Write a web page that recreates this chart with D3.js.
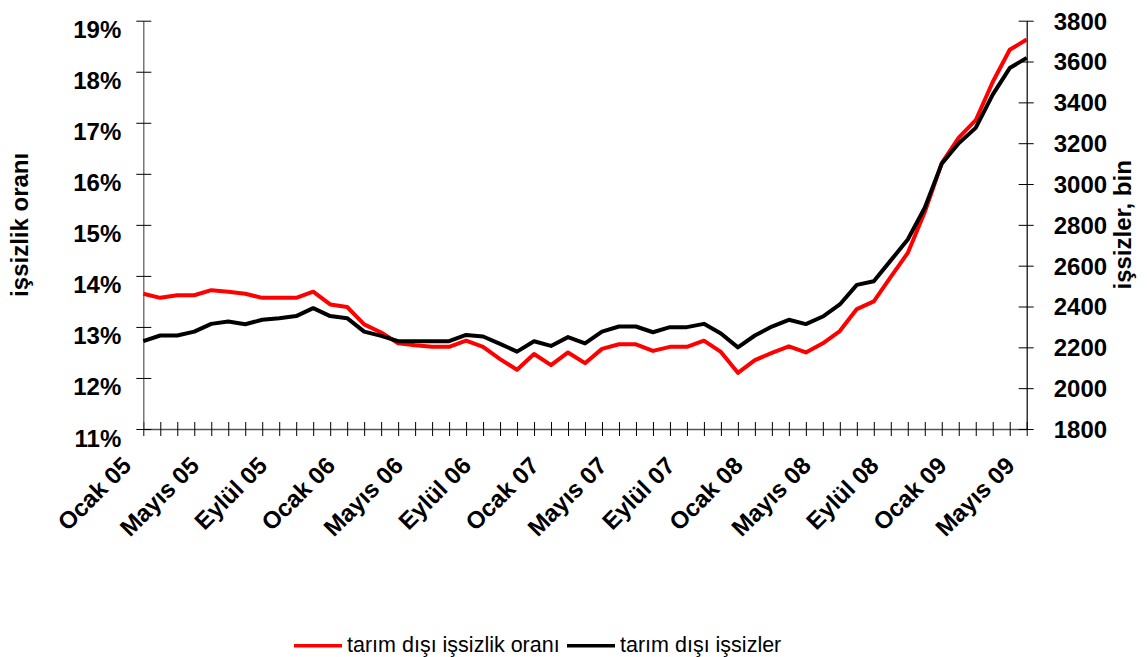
<!DOCTYPE html>
<html>
  <head>
    <meta charset="utf-8">
    <title>Tarım dışı işsizlik</title>
    <style>
      body {
        margin: 0px;
        overflow: hidden;
        background: #fff;
      }
      text { font-family: "Liberation Sans", Arial, sans-serif; }
    </style>
    <script src="https://d3js.org/d3.v7.min.js"></script>
  </head>
  <body>

    <svg width="1147" height="657"></svg>

    <script>
      // months, Ocak 05 .. Mayıs 09
      const months = [
        'Ocak 05', 'Şubat 05', 'Mart 05', 'Nisan 05', 'Mayıs 05', 'Haziran 05', 'Temmuz 05', 'Ağustos 05', 'Eylül 05', 'Ekim 05', 'Kasım 05', 'Aralık 05',
        'Ocak 06', 'Şubat 06', 'Mart 06', 'Nisan 06', 'Mayıs 06', 'Haziran 06', 'Temmuz 06', 'Ağustos 06', 'Eylül 06', 'Ekim 06', 'Kasım 06', 'Aralık 06',
        'Ocak 07', 'Şubat 07', 'Mart 07', 'Nisan 07', 'Mayıs 07', 'Haziran 07', 'Temmuz 07', 'Ağustos 07', 'Eylül 07', 'Ekim 07', 'Kasım 07', 'Aralık 07',
        'Ocak 08', 'Şubat 08', 'Mart 08', 'Nisan 08', 'Mayıs 08', 'Haziran 08', 'Temmuz 08', 'Ağustos 08', 'Eylül 08', 'Ekim 08', 'Kasım 08', 'Aralık 08',
        'Ocak 09', 'Şubat 09', 'Mart 09', 'Nisan 09', 'Mayıs 09'
      ];
      // labels shown on the x axis
      const shownLabels = ['Ocak 05', 'Mayıs 05', 'Eylül 05', 'Ocak 06', 'Mayıs 06', 'Eylül 06', 'Ocak 07',
        'Mayıs 07', 'Eylül 07', 'Ocak 08', 'Mayıs 08', 'Eylül 08', 'Ocak 09', 'Mayıs 09'];

      // tarım dışı işsizlik oranı (%), left axis
      const rate = [
        13.65, 13.57, 13.62, 13.62, 13.72, 13.69, 13.65, 13.57, 13.57, 13.57, 13.69, 13.44,
        13.39, 13.05, 12.89, 12.68, 12.64, 12.61, 12.61, 12.73, 12.61, 12.37, 12.16, 12.47,
        12.25, 12.50, 12.29, 12.57, 12.66, 12.66, 12.53, 12.61, 12.61, 12.73, 12.51, 12.10,
        12.35, 12.49, 12.62, 12.50, 12.68, 12.92, 13.35, 13.50, 13.98, 14.45, 15.25, 16.21,
        16.71, 17.05, 17.80, 18.43, 18.63
      ];
      // tarım dışı işsizler (bin), right axis
      const unemployed = [
        2230, 2258, 2258, 2277, 2315, 2327, 2313, 2335, 2343, 2353, 2392, 2353,
        2343, 2277, 2256, 2230, 2230, 2230, 2230, 2261, 2253, 2217, 2179, 2230,
        2207, 2250, 2219, 2277, 2302, 2302, 2274, 2299, 2299, 2315, 2268, 2200,
        2258, 2302, 2335, 2314, 2351, 2410, 2506, 2524, 2626, 2728, 2884, 3100,
        3200, 3275, 3438, 3568, 3618
      ];

      const leftTicks = [0.11, 0.12, 0.13, 0.14, 0.15, 0.16, 0.17, 0.18, 0.19];
      const rightTicks = [1800, 2000, 2200, 2400, 2600, 2800, 3000, 3200, 3400, 3600, 3800];

      const svg = d3.select('svg');
      const margin = { top: 20.7, right: 120.3, bottom: 228, left: 143.3 };
      const width = +svg.attr('width');
      const height = +svg.attr('height');
      const innerWidth = width - margin.left - margin.right;
      const innerHeight = height - margin.top - margin.bottom;

      const g = svg.append('g')
        .attr('transform', `translate(${margin.left},${margin.top})`);

      const xScale = d3.scalePoint()
        .domain(months)
        .range([0, innerWidth]);

      const yLeft = d3.scaleLinear()
        .domain([0.11, 0.19])
        .range([innerHeight, 0]);

      const yRight = d3.scaleLinear()
        .domain([1800, 3800])
        .range([innerHeight, 0]);

      // x axis: a tick for every month, a label every four months
      const xAxis = d3.axisBottom(xScale)
        .tickSizeOuter(0)
        .tickSizeInner(7)
        .tickFormat(d => shownLabels.includes(d) ? d : '');
      const xg = g.append('g')
        .attr('transform', `translate(0,${innerHeight})`)
        .call(xAxis);
      xg.select('.domain').attr('stroke', '#555').attr('stroke-width', 1.5);
      xg.selectAll('.tick line').attr('y1', -7).attr('y2', 7).attr('stroke', '#000');
      xg.selectAll('.tick text').filter(d => !shownLabels.includes(d)).remove();
      xg.selectAll('.tick text')
        .attr('font-size', 24)
        .attr('font-weight', 'bold')
        .attr('fill', '#000')
        .attr('text-anchor', 'end')
        .attr('y', 0)
        .attr('dy', 0)
        .attr('transform', 'translate(-11,38) rotate(-45)');

      // left axis
      const leftAxis = d3.axisLeft(yLeft)
        .tickValues(leftTicks)
        .tickSizeOuter(0)
        .tickSizeInner(7)
        .tickPadding(15)
        .tickFormat(d3.format('.0%'));
      const lg = g.append('g').call(leftAxis);
      lg.select('.domain').attr('stroke', '#555').attr('stroke-width', 1.2);
      lg.selectAll('.tick line').attr('x1', -7).attr('x2', 8).attr('stroke', '#000');
      lg.selectAll('.tick text')
        .attr('font-size', 24)
        .attr('font-weight', 'bold')
        .attr('fill', '#000')
        .attr('dy', 17);

      // right axis
      const rightAxis = d3.axisRight(yRight)
        .tickValues(rightTicks)
        .tickSizeOuter(0)
        .tickSizeInner(7)
        .tickPadding(20)
        .tickFormat(d3.format('d'));
      const rg = g.append('g')
        .attr('transform', `translate(${innerWidth},0)`)
        .call(rightAxis);
      rg.select('.domain').attr('stroke', '#000').attr('stroke-width', 1.2);
      rg.selectAll('.tick line').attr('x1', -8).attr('x2', 7).attr('stroke', '#000');
      rg.selectAll('.tick text')
        .attr('font-size', 24)
        .attr('font-weight', 'bold')
        .attr('fill', '#000')
        .attr('dy', '0.35em');

      // axis titles
      svg.append('text')
        .attr('transform', `translate(28,${margin.top + innerHeight / 2}) rotate(-90)`)
        .attr('text-anchor', 'middle')
        .attr('font-size', 24)
        .attr('font-weight', 'bold')
        .text('işsizlik oranı');

      svg.append('text')
        .attr('transform', `translate(1131,${margin.top + innerHeight / 2}) rotate(-90)`)
        .attr('text-anchor', 'middle')
        .attr('font-size', 24)
        .attr('font-weight', 'bold')
        .text('işsizler, bin');

      // lines
      const rateLine = d3.line()
        .x((d, i) => xScale(months[i]))
        .y(d => yLeft(d / 100));
      const countLine = d3.line()
        .x((d, i) => xScale(months[i]))
        .y(d => yRight(d));

      g.append('path')
        .datum(rate)
        .attr('fill', 'none')
        .attr('stroke', '#ff0000')
        .attr('stroke-width', 4)
        .attr('stroke-linejoin', 'round')
        .attr('d', rateLine);

      g.append('path')
        .datum(unemployed)
        .attr('fill', 'none')
        .attr('stroke', '#000')
        .attr('stroke-width', 4)
        .attr('stroke-linejoin', 'round')
        .attr('d', countLine);

      // legend
      const legend = [
        { name: 'tarım dışı işsizlik oranı', color: '#ff0000', x: 294 },
        { name: 'tarım dışı işsizler', color: '#000', x: 567 }
      ];
      const lgd = svg.append('g');
      legend.forEach(l => {
        lgd.append('line')
          .attr('x1', l.x).attr('x2', l.x + 48)
          .attr('y1', 645.7).attr('y2', 645.7)
          .attr('stroke', l.color)
          .attr('stroke-width', 3.5);
        lgd.append('text')
          .attr('x', l.x + 53)
          .attr('y', 652)
          .attr('font-size', 21.5)
          .attr('fill', '#000')
          .text(l.name);
      });
    </script>
  </body>
</html>
